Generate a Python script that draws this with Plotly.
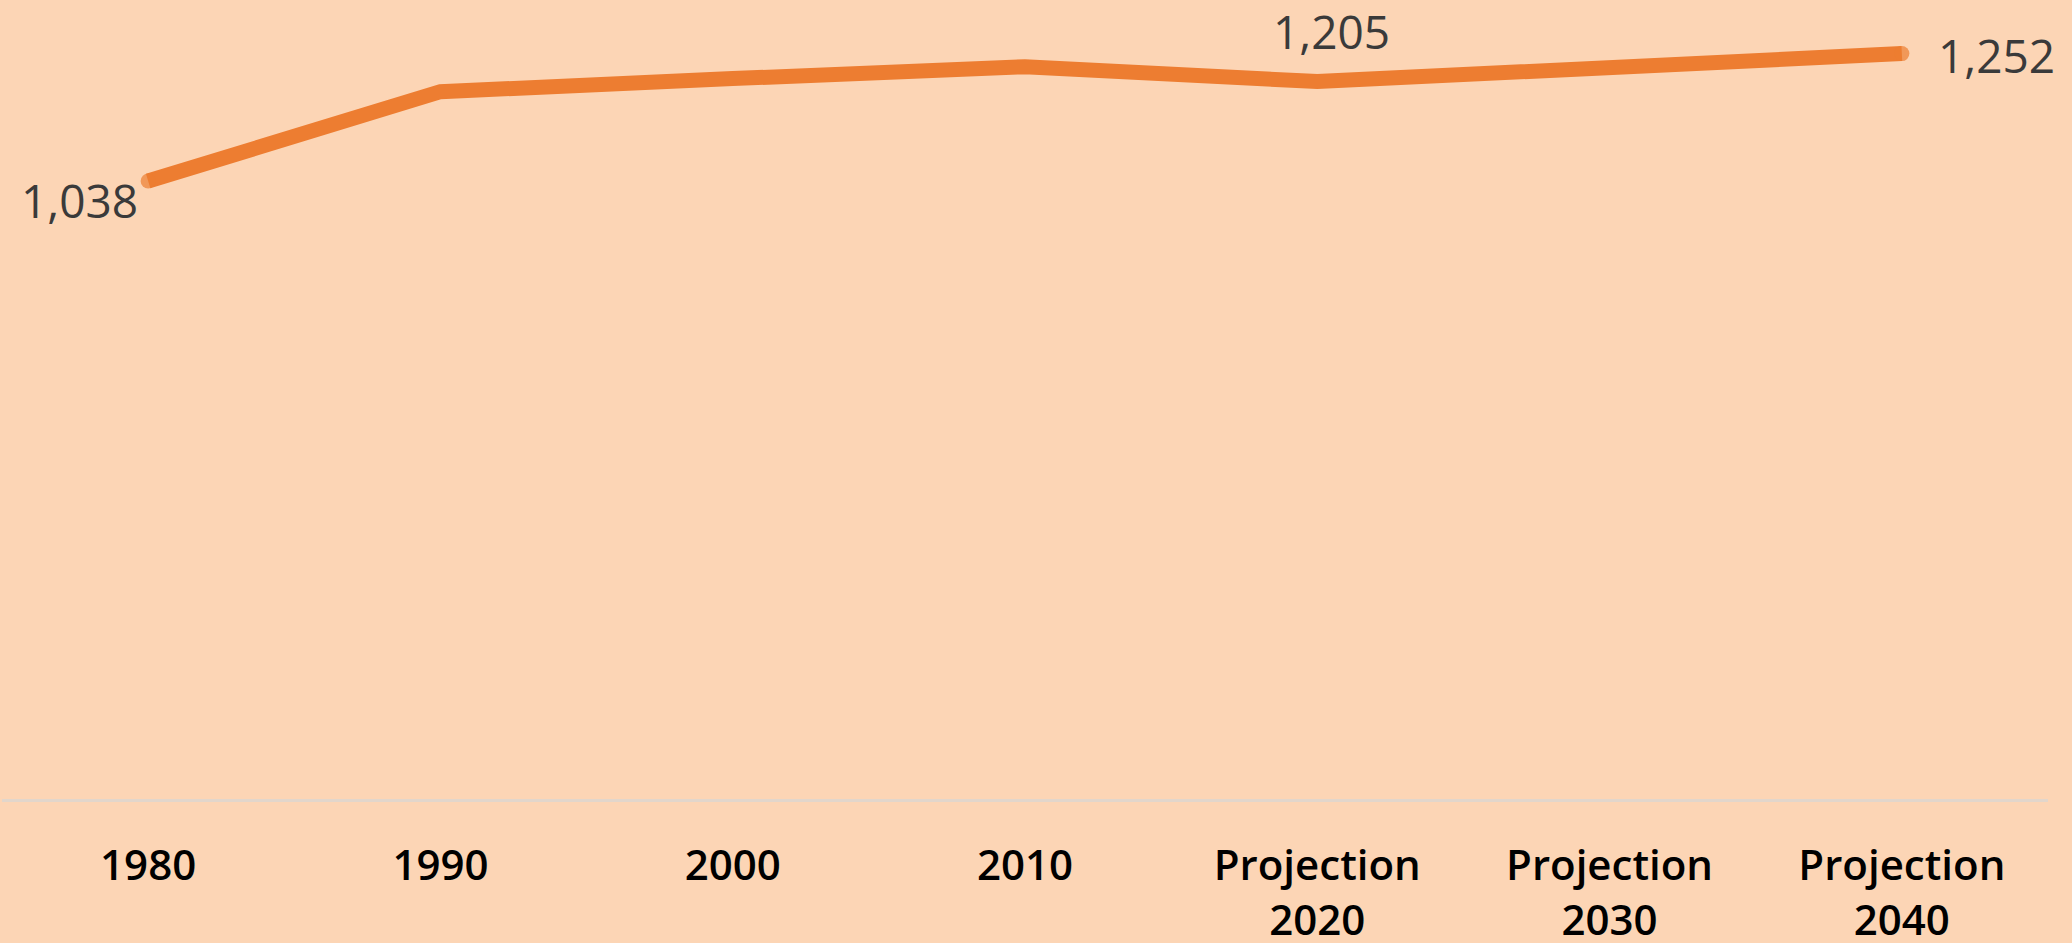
import plotly.graph_objects as go

categories = ["1980", "1990", "2000", "2010", "Projection 2020", "Projection 2030", "Projection 2040"]
tick_labels = ["1980", "1990", "2000", "2010", "Projection<br>2020", "Projection<br>2030", "Projection<br>2040"]
values = [1038, 1188, 1210, 1230, 1205, 1230, 1252]
labelled = [0, 4, 6]

BG = "#FCD5B5"
ORANGE = "#ED7D31"
FONT = "Open Sans"

fig = go.Figure()
fig.add_trace(go.Scatter(
    x=categories, y=values, mode="lines+markers",
    line=dict(color=ORANGE, width=15),
    marker=dict(color=ORANGE, line=dict(width=0),
                size=[15 if i in (0, len(values) - 1) else 0 for i in range(len(values))]),
    hoverinfo="skip", showlegend=False,
))

label_style = {
    0: dict(xanchor="right", yanchor="middle", xshift=-8, yshift=-19),
    4: dict(xanchor="center", yanchor="middle", xshift=14, yshift=51),
    6: dict(xanchor="left", yanchor="middle", xshift=34, yshift=-1),
}
for i in labelled:
    fig.add_annotation(
        x=i, y=values[i], xref="x", yref="y", text=f"{values[i]:,}", showarrow=False,
        font=dict(family=FONT, size=46, color="#3A3A3A"), **label_style[i],
    )

fig.update_layout(
    width=2072, height=943,
    paper_bgcolor=BG, plot_bgcolor=BG,
    margin=dict(l=2, r=24, t=0, b=144, autoexpand=False),
    xaxis=dict(
        type="category", categoryorder="array", categoryarray=categories,
        range=[-0.5, len(categories) - 0.5], autorange=False, automargin=False,
        tickmode="array", tickvals=categories, ticktext=tick_labels, tickangle=0,
        showgrid=False, zeroline=False, showline=True, linecolor="#E2D6CB", linewidth=3,
        ticks="", ticklabelstandoff=28,
        tickfont=dict(family=FONT, size=42, color="#000000", weight=600),
    ),
    yaxis=dict(range=[0, 1342], autorange=False, visible=False, showgrid=False,
               zeroline=False, automargin=False),
)

fig.write_html(
    "out.html",
    config={"displayModeBar": False},
    post_script="document.body.style.margin='0';document.body.style.background='" + BG + "';",
)
